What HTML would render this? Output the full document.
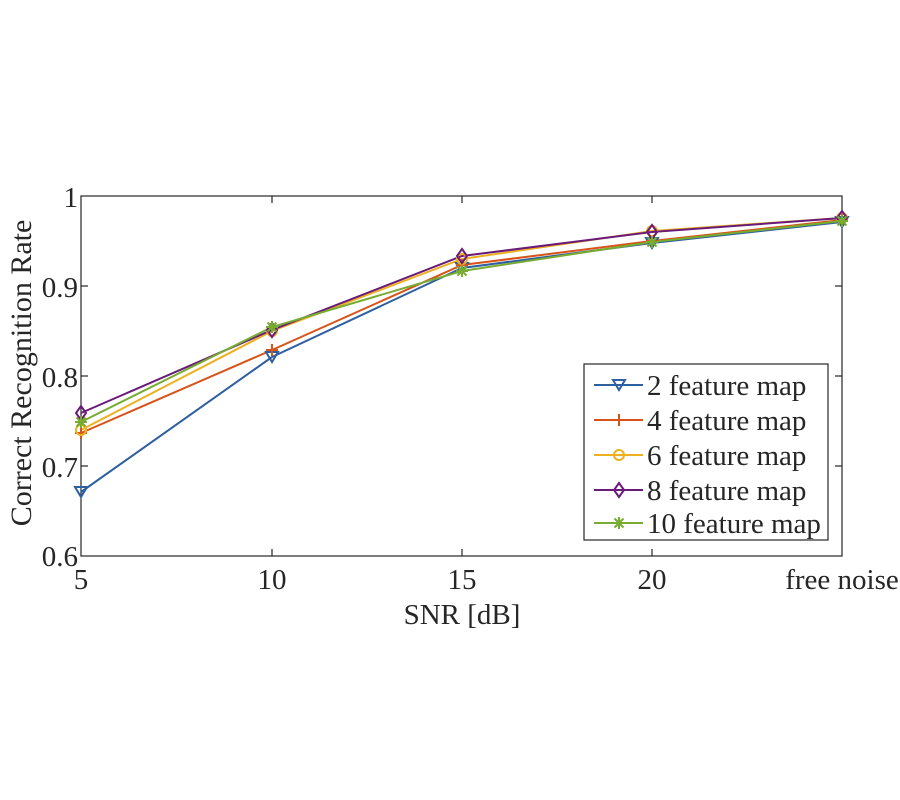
<!DOCTYPE html>
<html><head><style>body{margin:0;background:#fff}svg{display:block}text{font-family:"Liberation Serif",serif;fill:#262626}</style></head><body>
<svg width="900" height="800" xmlns="http://www.w3.org/2000/svg">
<rect x="81" y="196" width="761" height="360" fill="#fff" stroke="#262626" stroke-width="1.2"/>
<g stroke="#262626" stroke-width="1.2">
<line x1="272" y1="556" x2="272" y2="549"/><line x1="462" y1="556" x2="462" y2="549"/><line x1="652" y1="556" x2="652" y2="549"/>
<line x1="272" y1="196" x2="272" y2="203"/><line x1="462" y1="196" x2="462" y2="203"/><line x1="652" y1="196" x2="652" y2="203"/>
<line x1="81" y1="286" x2="88" y2="286"/><line x1="81" y1="376" x2="88" y2="376"/><line x1="81" y1="466" x2="88" y2="466"/>
<line x1="842" y1="286" x2="835" y2="286"/><line x1="842" y1="376" x2="835" y2="376"/><line x1="842" y1="466" x2="835" y2="466"/>
</g>
<g font-size="29" text-anchor="end">
<text x="78" y="207">1</text><text x="78" y="297">0.9</text><text x="78" y="387">0.8</text><text x="78" y="477">0.7</text><text x="78" y="566">0.6</text>
</g>
<g font-size="29" text-anchor="middle">
<text x="81" y="589">5</text><text x="272" y="589">10</text><text x="462" y="589">15</text><text x="652" y="589">20</text><text x="842" y="589">free noise</text>
<text x="462" y="624">SNR [dB]</text>
<text transform="translate(31,373) rotate(-90)" font-size="30">Correct Recognition Rate</text>
</g>
<g fill="none" stroke-width="2">
<polyline stroke="#2E5FA1" points="81,492 272,357 462,268 652,243 842,222"/>
<polyline stroke="#D95319" points="81,433 272,350 462,265 652,241 842,220"/>
<polyline stroke="#EDB120" points="81,430 272,331 462,259 652,231 842,218"/>
<polyline stroke="#6A1B7A" points="81,413 272,330 462,256 652,232 842,218"/>
<polyline stroke="#77AC30" points="81,422 272,327 462,271 652,242 842,221"/>
</g>
<defs>
<path id="tri" d="M-6,-5 L6,-5 L0,5 Z" fill="none" stroke="#2E5FA1" stroke-width="2"/>
<path id="plus" d="M-6,0 L6,0 M0,-6 L0,6" stroke="#D95319" stroke-width="2"/>
<circle id="circ" r="5" fill="none" stroke="#EDB120" stroke-width="2"/>
<path id="dia" d="M0,-7 L5,0 L0,7 L-5,0 Z" fill="none" stroke="#6A1B7A" stroke-width="2"/>
<path id="star" d="M-6,0 L6,0 M0,-6 L0,6 M-4.5,-4.5 L4.5,4.5 M-4.5,4.5 L4.5,-4.5" stroke="#77AC30" stroke-width="2"/>
</defs>
<g>
<use href="#tri" x="81" y="492"/><use href="#tri" x="272" y="357"/><use href="#tri" x="462" y="268"/><use href="#tri" x="652" y="243"/><use href="#tri" x="842" y="222"/>
<use href="#plus" x="81" y="433"/><use href="#plus" x="272" y="350"/><use href="#plus" x="462" y="265"/><use href="#plus" x="652" y="241"/><use href="#plus" x="842" y="220"/>
<use href="#circ" x="81" y="430"/><use href="#circ" x="272" y="331"/><use href="#circ" x="462" y="259"/><use href="#circ" x="652" y="231"/><use href="#circ" x="842" y="218"/>
<use href="#dia" x="81" y="413"/><use href="#dia" x="272" y="330"/><use href="#dia" x="462" y="256"/><use href="#dia" x="652" y="232"/><use href="#dia" x="842" y="218"/>
<use href="#star" x="81" y="422"/><use href="#star" x="272" y="327"/><use href="#star" x="462" y="271"/><use href="#star" x="652" y="242"/><use href="#star" x="842" y="221"/>
</g>
<rect x="584" y="364" width="244" height="176" fill="#fff" stroke="#262626" stroke-width="1.2"/>
<g stroke-width="2">
<line x1="594" y1="385" x2="643" y2="385" stroke="#2E5FA1"/><use href="#tri" x="619" y="385"/>
<line x1="594" y1="420" x2="643" y2="420" stroke="#D95319"/><use href="#plus" x="619" y="420"/>
<line x1="594" y1="455" x2="643" y2="455" stroke="#EDB120"/><use href="#circ" x="619" y="455"/>
<line x1="594" y1="490" x2="643" y2="490" stroke="#6A1B7A"/><use href="#dia" x="619" y="490"/>
<line x1="594" y1="523" x2="643" y2="523" stroke="#77AC30"/><use href="#star" x="619" y="523"/>
</g>
<g font-size="29" style="fill:#000">
<text x="647" y="395">2 feature map</text>
<text x="647" y="430">4 feature map</text>
<text x="647" y="465">6 feature map</text>
<text x="647" y="500">8 feature map</text>
<text x="647" y="533">10 feature map</text>
</g>
</svg>
</body></html>
